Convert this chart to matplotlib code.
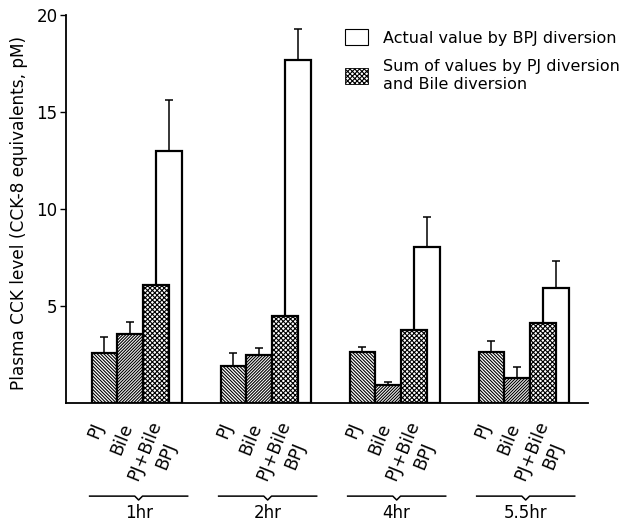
import matplotlib.pyplot as plt
import matplotlib.transforms as mtransforms
from matplotlib.patches import Patch
import numpy as np

groups = ['1hr', '2hr', '4hr', '5.5hr']
bar_names = ['PJ', 'Bile', 'PJ+Bile', 'BPJ']

pj = [2.6, 1.9, 2.65, 2.65]
pj_err = [0.8, 0.7, 0.25, 0.55]
bile = [3.55, 2.5, 0.95, 1.3]
bile_err = [0.65, 0.35, 0.15, 0.55]
pj_bile = [6.1, 4.5, 3.75, 4.1]
bpj = [13.0, 17.7, 8.05, 5.95]
bpj_err = [2.6, 1.6, 1.55, 1.35]

plt.rcParams['font.family'] = ['DejaVu Sans']
plt.rcParams['hatch.linewidth'] = 0.8

fig = plt.figure(figsize=(6.24, 5.28), dpi=100)
ax = fig.add_axes([66 / 624, 125 / 528, 522 / 624, 388 / 528])

x = np.arange(len(groups))
w = 0.2
lw = 1.6

ax.bar(x - 0.3, pj, w, color='white', edgecolor='black', hatch='\\' * 10, lw=lw, zorder=3)
ax.bar(x - 0.1, bile, w, color='white', edgecolor='black', hatch='/' * 11, lw=lw, zorder=3)
ax.bar(x + 0.1, pj_bile, w, color='white', edgecolor='black', hatch='x' * 7, lw=lw, zorder=3)
ax.bar(x + 0.2, bpj, w, color='white', edgecolor='black', lw=lw, zorder=2)

for xs, vals, err in [(x - 0.3, pj, pj_err), (x - 0.1, bile, bile_err), (x + 0.2, bpj, bpj_err)]:
    ax.errorbar(xs, vals, yerr=[np.zeros(len(err)), err], fmt='none', ecolor='black',
                elinewidth=1.1, capsize=2.6, capthick=1.1, zorder=1)

ax.set_xlim(-0.598, 3.448)
ax.set_ylim(0, 20)
ax.set_yticks([5, 10, 15, 20])
ax.tick_params(axis='y', direction='out', length=4, width=1, labelsize=12, pad=2)
ax.set_xticks([])
ax.spines['top'].set_visible(False)
ax.spines['right'].set_visible(False)
ax.spines['left'].set_linewidth(1.3)
ax.spines['bottom'].set_linewidth(1.3)
ax.set_ylabel('Plasma CCK level (CCK-8 equivalents, pM)', fontsize=12.2)
ax.yaxis.set_label_coords(-0.073, 0.49)

# rotated bar names under each group
trans = mtransforms.blended_transform_factory(ax.transData, ax.transAxes)
offsets = [(-0.3 - 0.070, -0.070), (-0.1 - 0.063, -0.093), (0.1 - 0.090, -0.122), (0.2 - 0.020, -0.137)]
for g in x:
    for name, (dx, yy) in zip(bar_names, offsets):
        ax.text(g + dx, yy, name, transform=trans, rotation=68, ha='center', va='center',
                fontsize=12.5, clip_on=False)
    # brace
    xc = g - 0.035
    ax.plot([xc - 0.38, xc - 0.03, xc, xc + 0.03, xc + 0.38],
            [-0.240, -0.240, -0.250, -0.240, -0.240],
            transform=trans, color='black', lw=1.1, clip_on=False)
    ax.text(xc, -0.283, groups[g], transform=trans, ha='center', va='center', fontsize=12)

handles = [Patch(facecolor='white', edgecolor='black', lw=0.8),
           Patch(facecolor='white', edgecolor='black', hatch='x' * 7, lw=0.6)]
labels = ['Actual value by BPJ diversion', 'Sum of values by PJ diversion\nand Bile diversion']
fig.legend(handles, labels, loc='upper left', bbox_to_anchor=(345 / 624, 1 - 29 / 528),
           frameon=False, fontsize=11.5, borderpad=0, borderaxespad=0,
           handlelength=1.42, handleheight=1.2, handletextpad=0.93, labelspacing=0.85)

fig.savefig('out.png', dpi=100)
